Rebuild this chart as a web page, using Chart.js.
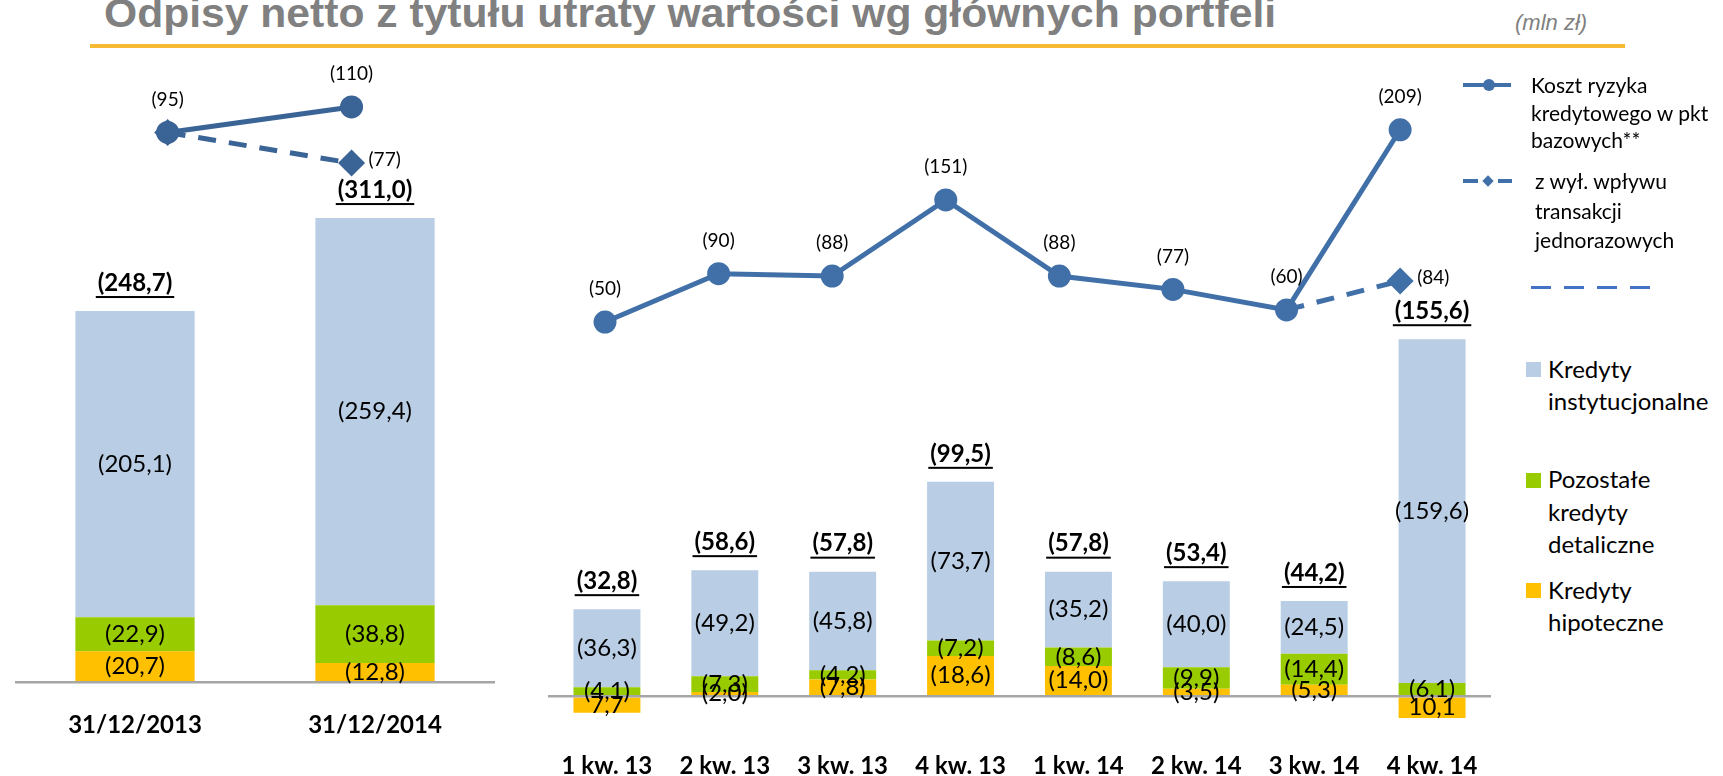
<!DOCTYPE html>
<html lang="pl">
<head>
<meta charset="utf-8">
<title>Odpisy netto z tytułu utraty wartości wg głównych portfeli</title>
<script src="https://cdn.jsdelivr.net/npm/chart.js@4.4.0/dist/chart.umd.min.js"></script>
<style>
  body { margin: 0; width: 1723px; height: 776px; overflow: hidden; background: #fff; position: relative; font-family: Lato, sans-serif; }
  #title { position: absolute; left: 104px; top: -7px; font: bold 40px/40px "Liberation Sans", Arial, sans-serif; color: #808080; white-space: nowrap; transform-origin: 0 0; }
  #unit { position: absolute; left: 1515px; top: 12px; font: italic 22px/22px "Liberation Sans", Arial, sans-serif; color: #808080; }
  #rule { position: absolute; left: 90px; top: 44px; width: 1535px; height: 4px; background: #F6BB33; }
  #yearly { position: absolute; left: 0; top: 0; }
  #quarterly { position: absolute; left: 520px; top: 0; }
  .ln { position: absolute; height: 4px; background: #4170A8; }
  .lt { position: absolute; font-size: 21px; color: #000; white-space: nowrap; }
  .sq { position: absolute; left: 1526px; width: 15px; height: 15px; }
  .st { position: absolute; left: 1548px; font-size: 24px; line-height: 32px; color: #000; white-space: nowrap; }
</style>
</head>
<body>
<div id="title">Odpisy netto z tytułu utraty wartości wg głównych portfeli</div>
<div id="unit">(mln zł)</div>
<div id="rule"></div>

<canvas id="yearly" width="520" height="800"></canvas>
<canvas id="quarterly" width="1000" height="800"></canvas>

<!-- legend -->
<div class="ln" style="left:1463px;top:83px;width:48px"></div>
<div style="position:absolute;left:1483px;top:79px;width:12px;height:12px;border-radius:50%;background:#4170A8"></div>
<div class="lt" style="left:1531px;top:71px;line-height:27.5px">Koszt ryzyka<br>kredytowego w pkt<br>bazowych**</div>

<div class="ln" style="left:1463px;top:179px;width:15px"></div>
<div style="position:absolute;left:1484px;top:177px;width:8px;height:8px;transform:rotate(45deg);background:#4170A8"></div>
<div class="ln" style="left:1498px;top:179px;width:14px"></div>
<div class="lt" style="left:1535px;top:166px;line-height:29.5px">z wył. wpływu<br>transakcji<br>jednorazowych</div>

<div style="position:absolute;left:1531px;top:286px;width:129px;height:3px;background:repeating-linear-gradient(90deg,#4472C4 0 20px,transparent 20px 33px)"></div>

<div class="sq" style="top:362px;background:#B9CDE5"></div>
<div class="st" style="top:353px">Kredyty<br>instytucjonalne</div>
<div class="sq" style="top:473px;background:#99CC00"></div>
<div class="st" style="top:463px;line-height:32.5px">Pozostałe<br>kredyty<br>detaliczne</div>
<div class="sq" style="top:583px;background:#FFC000"></div>
<div class="st" style="top:574px">Kredyty<br>hipoteczne</div>

<script>
// annual
const years = ["31/12/2013", "31/12/2014"];
const yearMortgage = [20.7, 12.8];
const yearRetail = [22.9, 38.8];
const yearCorporate = [205.1, 259.4];
const yearTotal = [248.7, 311.0];
const yearRisk = [95, 110];
const yearRiskAdj = [95, 77];

// quarterly (negative = release, drawn below the axis)
const quarters = ["1 kw. 13", "2 kw. 13", "3 kw. 13", "4 kw. 13", "1 kw. 14", "2 kw. 14", "3 kw. 14", "4 kw. 14"];
const qMortgage = [-7.7, 2.0, 7.8, 18.6, 14.0, 3.5, 5.3, -10.1];
const qRetail = [4.1, 7.3, 4.2, 7.2, 8.6, 9.9, 14.4, 6.1];
const qCorporate = [36.3, 49.2, 45.8, 73.7, 35.2, 40.0, 24.5, 159.6];
const qTotal = [32.8, 58.6, 57.8, 99.5, 57.8, 53.4, 44.2, 155.6];
const qRisk = [50, 90, 88, 151, 88, 77, 60, 209];
const qRiskAdj = [null, null, null, null, null, null, 60, 84];

const fmt = (v) => v.toFixed(1).replace(".", ",");

const labelPlugin = {
  id: "labels",
  afterDraw(chart) {
    const ctx = chart.ctx;
    const totals = chart.options.plugins.labels.totals;
    ctx.save();
    ctx.textBaseline = "middle";
    ctx.fillStyle = "#000";
    let topMeta = null;
    chart.data.datasets.forEach((ds, di) => {
      const meta = chart.getDatasetMeta(di);
      if (ds.type === "line") {
        ctx.font = "19px Lato";
        const pts = ds.data.map((p, i) => (p.y == null ? -1 : i)).filter((i) => i >= 0);
        meta.data.forEach((pt, i) => {
          const v = ds.data[i].y;
          if (v == null) return;
          if (ds.borderDash) {
            if (i !== pts[pts.length - 1]) return;
            ctx.textAlign = "left";
            ctx.fillText(`(${v})`, pt.x + 17, pt.y - 3);
          } else {
            ctx.textAlign = "center";
            ctx.fillText(`(${v})`, pt.x, pt.y - 33);
          }
        });
      } else {
        topMeta = meta;
        ctx.font = "24px Lato";
        ctx.textAlign = "center";
        meta.data.forEach((bar, i) => {
          const v = ds.data[i];
          ctx.fillText(v < 0 ? fmt(-v) : `(${fmt(v)})`, bar.x, (bar.y + bar.base) / 2);
        });
      }
    });
    ctx.font = "bold 24px Lato";
    ctx.textAlign = "center";
    topMeta.data.forEach((bar, i) => {
      const txt = `(${fmt(totals[i])})`;
      const w = ctx.measureText(txt).width;
      const y = bar.y - 28;
      ctx.fillText(txt, bar.x, y);
      ctx.fillRect(bar.x - w / 2 - 2, y + 13, w + 4, 2);
    });
    ctx.restore();
  },
};

function build(id, s) {
  const lineColor = s.lineColor;
  const lastAdj = s.riskAdj.reduce((a, v, i) => (v == null ? a : i), -1);
  const bar = (label, data, color) => ({
    label, data, backgroundColor: color, order: 1, stack: "loans", grouped: false,
  });
  return new Chart(document.getElementById(id), {
    type: "bar",
    data: {
      labels: s.cats,
      datasets: [
        {
          type: "line",
          label: "z wył. wpływu transakcji jednorazowych",
          data: s.riskAdj.map((y, x) => ({ x, y })),
          xAxisID: "xl",
          yAxisID: "yl",
          order: 0,
          borderColor: lineColor,
          backgroundColor: lineColor,
          borderWidth: 5,
          borderDash: [18, 13],
          pointStyle: "rectRot",
          pointRadius: (c) => (c.dataIndex === lastAdj || s.adjFirstMarker ? 10 : 0),
          clip: false,
        },
        {
          type: "line",
          label: "Koszt ryzyka kredytowego w pkt bazowych**",
          data: s.risk.map((y, x) => ({ x, y })),
          xAxisID: "xl",
          yAxisID: "yl",
          order: 0,
          borderColor: lineColor,
          backgroundColor: lineColor,
          borderWidth: 5,
          pointStyle: "circle",
          pointRadius: 9,
          clip: false,
        },
        bar("Kredyty hipoteczne", s.mortgage, "#FFC000"),
        bar("Pozostałe kredyty detaliczne", s.retail, "#99CC00"),
        bar("Kredyty instytucjonalne", s.corporate, "#B9CDE5"),
      ],
    },
    options: {
      responsive: false,
      animation: false,
      layout: { padding: s.padding },
      datasets: { bar: { barPercentage: 1, categoryPercentage: s.barPct } },
      plugins: {
        legend: { display: false },
        tooltip: { enabled: false },
        labels: { totals: s.totals },
      },
      scales: {
        x: {
          stacked: true,
          grid: { display: false },
          border: { display: false },
          ticks: { color: "#000", font: { family: "Lato", size: 24, weight: "bold" }, padding: s.tickPad },
        },
        y: {
          stacked: true,
          min: s.yMin,
          max: s.yMax,
          ticks: { display: false },
          border: { display: false },
          grid: { drawTicks: false, color: "#A6A6A6", lineWidth: 2.5, z: 1 },
          afterBuildTicks: (sc) => { sc.ticks = [{ value: 0 }]; },
        },
        xl: { type: "linear", display: false, offset: false, ticks: { display: false }, min: s.xlMin, max: s.xlMax },
        yl: { type: "linear", display: false, ticks: { display: false }, min: s.ylMin, max: s.ylMax },
      },
    },
    plugins: [labelPlugin],
  });
}

build("yearly", {
  cats: years, mortgage: yearMortgage, retail: yearRetail, corporate: yearCorporate,
  totals: yearTotal, risk: yearRisk, riskAdj: yearRiskAdj, adjFirstMarker: true,
  lineColor: "#3A6396",
  padding: { left: 8, right: 25, top: 60, bottom: 39 },
  barPct: 0.497, tickPad: 21,
  yMin: 0, yMax: 416.9,
  xlMin: -0.83, xlMax: 1.78,
  ylMin: -228.2, ylMax: 137.6,
});

build("quarterly", {
  cats: quarters, mortgage: qMortgage, retail: qRetail, corporate: qCorporate,
  totals: qTotal, risk: qRisk, riskAdj: qRiskAdj, adjFirstMarker: false,
  lineColor: "#4170A8",
  padding: { left: 28, right: 29, top: 60, bottom: 11 },
  barPct: 0.568, tickPad: 8,
  yMin: -18.57, yMax: 295.3,
  xlMin: -0.502, xlMax: 7.8,
  ylMin: -292.5, ylMax: 266.7,
});

const t = document.getElementById("title");
t.style.transform = `scaleX(${1172 / t.offsetWidth})`;
</script>
</body>
</html>
